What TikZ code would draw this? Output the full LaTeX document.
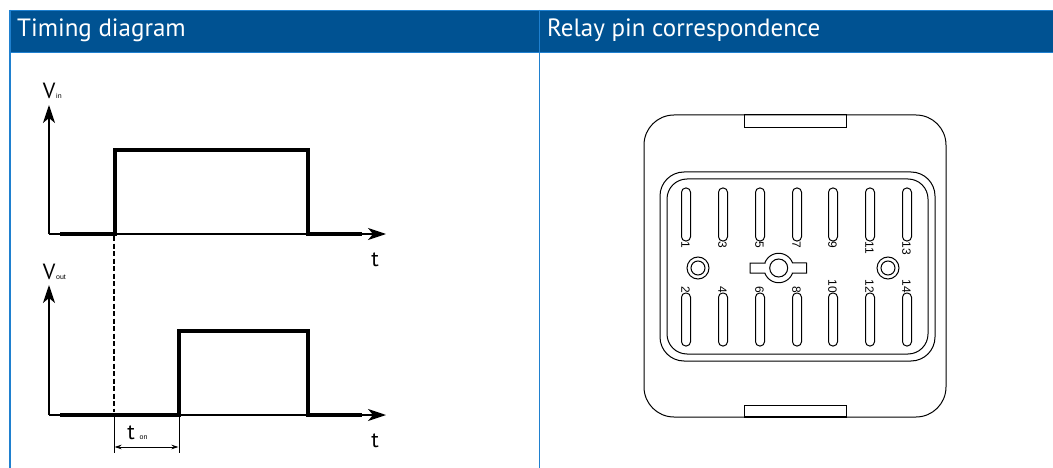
\documentclass[tikz,border=0pt]{standalone}
\usepackage{fontspec}
\setmainfont{PT Sans}
\newfontfamily\pinfont{Liberation Sans}
\usetikzlibrary{arrows.meta}
\definecolor{hdr}{HTML}{005292}
\definecolor{edge}{HTML}{1F80CF}
\tikzset{
 x=1pt,y=-1pt,
 axisline/.style={line width=1.4pt,-{Stealth[length=18pt,width=12pt,inset=5pt]}},
 sig/.style={line width=4pt,line join=miter},
 thin line/.style={line width=0.9pt},
 relay/.style={line width=1pt,rounded corners=#1},
 slotbox/.style={line width=1pt,rounded corners=4.2pt},
 pinlabel/.style={font=\pinfont\fontsize{12}{12}\selectfont,rotate=-90,inner sep=0pt},
 head/.style={font=\fontsize{25}{27}\selectfont,text=white,anchor=west,inner sep=0pt},
 big/.style={font=\fontsize{22}{23}\selectfont,inner sep=0pt},
 sub/.style={font=\pinfont\fontsize{7}{8}\selectfont,inner sep=0pt,anchor=west}
}
\begin{document}
\begin{tikzpicture}
\useasboundingbox (0,0) rectangle (1053,468);
\fill[white] (0,0) rectangle (1053,468);
% frame
\fill[hdr] (9,10) rectangle (1053,53);
\draw[edge,line width=1pt] (9,10.5) -- (1053,10.5);
\draw[edge,line width=1pt] (9,53) -- (1053,53);
\draw[edge,line width=2pt] (10,10) -- (10,468);
\draw[edge,line width=1.2pt] (539.5,10) -- (539.5,468);
\node[head] (t1) at (17,30.5) {Timing diagram};
\node[head] (t2) at (547,30.5) {Relay pin correspondence};
% timing top
\coordinate (o1) at (49,234);
\coordinate (y1) at (49,105);
\coordinate (x1) at (386,234);
\draw[axisline] (o1) -- (y1);
\draw[axisline] (o1) -- (x1);
\draw[sig] (60,234) -- (115,234) -- (115,150) -- (308,150) -- (308,234) -- (362,234);
\node[big] (vin) at (49,91) {V};
\node[sub] (vins) at (56,96) {in};
\node[big] (t1l) at (375,260) {t};
% timing bottom
\coordinate (o2) at (49,415);
\coordinate (y2) at (49,285);
\coordinate (x2) at (386,415);
\draw[axisline] (o2) -- (y2);
\draw[axisline] (o2) -- (x2);
\draw[sig] (60,415) -- (179,415) -- (179,331) -- (308,331) -- (308,415) -- (362,415);
\node[big] (vout) at (49,272) {V};
\node[sub] (vouts) at (56,277) {out};
\node[big] (t2l) at (375,441) {t};
\draw[line width=1.4pt,dash pattern=on 5pt off 2.5pt] (114,236) -- (114,412);
\coordinate (b1) at (114,415);
\coordinate (b2) at (179,415);
\coordinate (b1e) at (114,453);
\coordinate (b2e) at (179,453);
\draw[thin line] (b1) -- (b1e);
\draw[thin line] (b2) -- (b2e);
\draw[line width=0.9pt,{Stealth[length=7pt,width=4.5pt]}-{Stealth[length=7pt,width=4.5pt]}] (114.5,447) -- (178.5,447);
\node[big] (ton) at (131,433) {t};
\node[sub] (tons) at (139.5,438) {on};
% relay
\draw[relay=30pt] (644,115) rectangle (946,417);
\draw[line width=1pt] (744,115) rectangle (846,128);
\draw[line width=1pt] (744,405) rectangle (846,417);
\draw[line width=1.3pt] (744,417) -- (846,417);
\draw[relay=24pt] (660,172) rectangle (935,361);
\draw[relay=20pt] (667,179) rectangle (928,354);
\foreach \px/\a/\b in {686/1/2,723/3/4,760/5/6,797/7/8,833/9/10,870/11/12,907/13/14}{
  \draw[slotbox] (\px-4.5,188) rectangle (\px+4.5,241);
  \draw[slotbox] (\px-4.5,293) rectangle (\px+4.5,346);
  \node[pinlabel,anchor=west] at (\px-0.5,241.5) {\a};
  \node[pinlabel,anchor=east] at (\px-0.5,293) {\b};
}
\foreach \cx in {698,888}{
  \draw[line width=1pt] (\cx,268) circle (11);
  \draw[line width=1pt] (\cx,268) circle (7);
}
% centre keyway
\draw[line width=1pt] (778.7,268) circle (9);
\draw[line width=1pt,line join=miter] (750,263) -- (764.9,263)
  -- plot[domain=160:20,samples=40] ({778.7+14.7*cos(\x)},{268-14.7*sin(\x)})
  -- (806.7,263) -- (806.7,273) -- (792.5,273)
  -- plot[domain=-20:-160,samples=40] ({778.7+14.7*cos(\x)},{268-14.7*sin(\x)})
  -- (750,273) -- (750,263) -- cycle;
\end{tikzpicture}
\end{document}
